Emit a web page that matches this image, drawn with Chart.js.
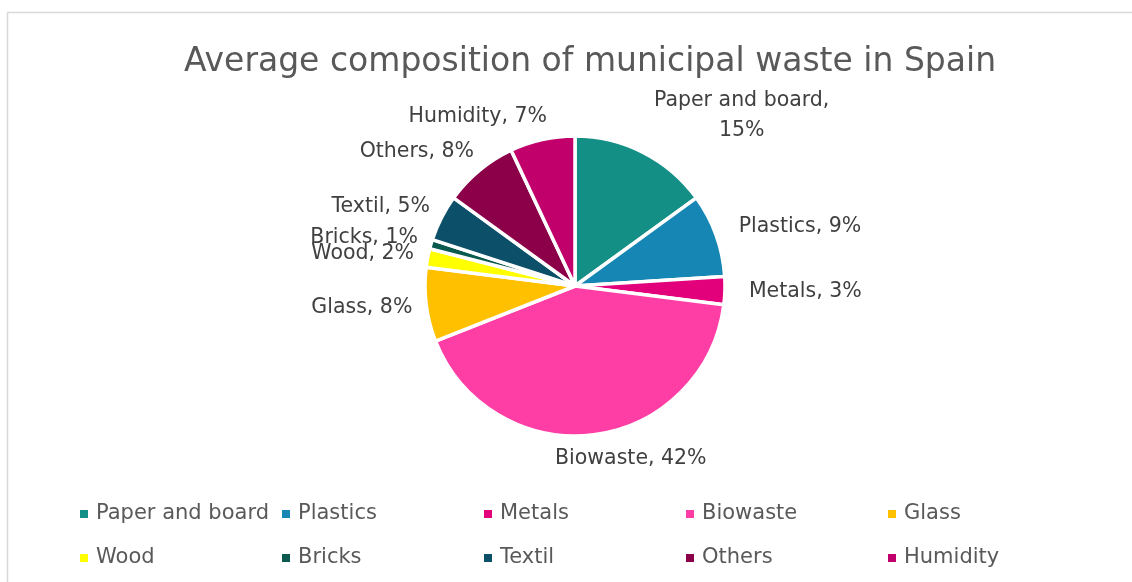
<!DOCTYPE html>
<html>
<head>
<meta charset="utf-8">
<script src="https://cdn.jsdelivr.net/npm/chart.js@4.4.0/dist/chart.umd.min.js"></script>
<style>
    html, body { margin: 0; padding: 0; background: #fff; }
    #wrap { width: 1132px; height: 582px; position: relative; }
</style>
</head>
<body>
<div id="wrap"><canvas id="wasteChart" width="1132" height="582"></canvas></div>
<script>
const categories = ['Paper and board', 'Plastics', 'Metals', 'Biowaste', 'Glass', 'Wood', 'Bricks', 'Textil', 'Others', 'Humidity'];
const shares = [15, 9, 3, 42, 8, 2, 1, 5, 8, 7];
const colors = ['#148f85', '#1686b5', '#e2017b', '#ff3ea5', '#ffc000', '#ffff00', '#0b5a50', '#0b4f68', '#8b0049', '#c2006b'];
const chartTitle = 'Average composition of municipal waste in Spain';

const fontFamily = '"DejaVu Sans", sans-serif';

// frame + title
const framePlugin = {
    id: 'frame',
    beforeDraw: function (chart) {
        const ctx = chart.ctx;
        ctx.save();
        ctx.strokeStyle = '#d9d9d9';
        ctx.lineWidth = 1.5;
        ctx.beginPath();
        ctx.moveTo(7.5, 600);
        ctx.lineTo(7.5, 12.5);
        ctx.lineTo(1140, 12.5);
        ctx.stroke();
        ctx.fillStyle = '#595959';
        ctx.font = '33px ' + fontFamily;
        ctx.textAlign = 'center';
        ctx.textBaseline = 'middle';
        ctx.fillText(chartTitle, 590, 62);
        ctx.restore();
    }
};

// labels outside the slices: "Name, x%"
const outsideLabels = {
    id: 'outsideLabels',
    afterDatasetsDraw: function (chart) {
        const ctx = chart.ctx;
        const meta = chart.getDatasetMeta(0);
        const data = chart.data.datasets[0].data;
        ctx.save();
        ctx.font = '20.5px ' + fontFamily;
        ctx.fillStyle = '#404040';
        ctx.textBaseline = 'middle';
        meta.data.forEach(function (arc, i) {
            const p = arc.getProps(['x', 'y', 'startAngle', 'endAngle', 'outerRadius']);
            const mid = (p.startAngle + p.endAngle) / 2;
            const r = p.outerRadius + 24;
            const ax = p.x + Math.cos(mid) * r;
            const ay = p.y + Math.sin(mid) * r;
            const full = chart.data.labels[i] + ', ' + data[i] + '%';
            let lines = [full];
            if (ctx.measureText(full).width > 185) {
                lines = [chart.data.labels[i] + ',', data[i] + '%'];
            }
            const blockW = Math.max.apply(null, lines.map(l => ctx.measureText(l).width));
            const c = Math.cos(mid);
            let cx;
            if (Math.abs(c) < 0.15) {
                cx = ax + 34;
            } else if (c > 0) {
                cx = ax + blockW / 2;
            } else {
                cx = ax - blockW / 2 + 10;
            }
            ctx.textAlign = 'center';
            const lh = 30;
            lines.forEach(function (line, k) {
                ctx.fillText(line, cx, ay - (lines.length - 1 - k) * lh);
            });
        });
        ctx.restore();
    }
};

// legend grid at bottom
const gridLegend = {
    id: 'gridLegend',
    afterDraw: function (chart) {
        const ctx = chart.ctx;
        ctx.save();
        ctx.font = '21px ' + fontFamily;
        ctx.textBaseline = 'middle';
        ctx.textAlign = 'left';
        categories.forEach(function (name, i) {
            const col = i % 5;
            const row = Math.floor(i / 5);
            const x = 80 + col * 202;
            const y = 514 + row * 44;
            ctx.fillStyle = colors[i];
            ctx.fillRect(x, y - 4, 8, 8);
            ctx.fillStyle = '#595959';
            ctx.fillText(name, x + 16, y);
        });
        ctx.restore();
    }
};

new Chart(document.getElementById('wasteChart'), {
    type: 'pie',
    data: {
        labels: categories,
        datasets: [{
            data: shares,
            backgroundColor: colors,
            borderColor: '#ffffff',
            borderWidth: 3.5,
            hoverOffset: 0
        }]
    },
    options: {
        responsive: false,
        animation: false,
        radius: 150,
        layout: {
            padding: { top: 136, bottom: 146, left: 100, right: 82 }
        },
        plugins: {
            legend: { display: false },
            tooltip: { enabled: false },
            title: { display: false }
        }
    },
    plugins: [framePlugin, outsideLabels, gridLegend]
});
</script>
</body>
</html>
